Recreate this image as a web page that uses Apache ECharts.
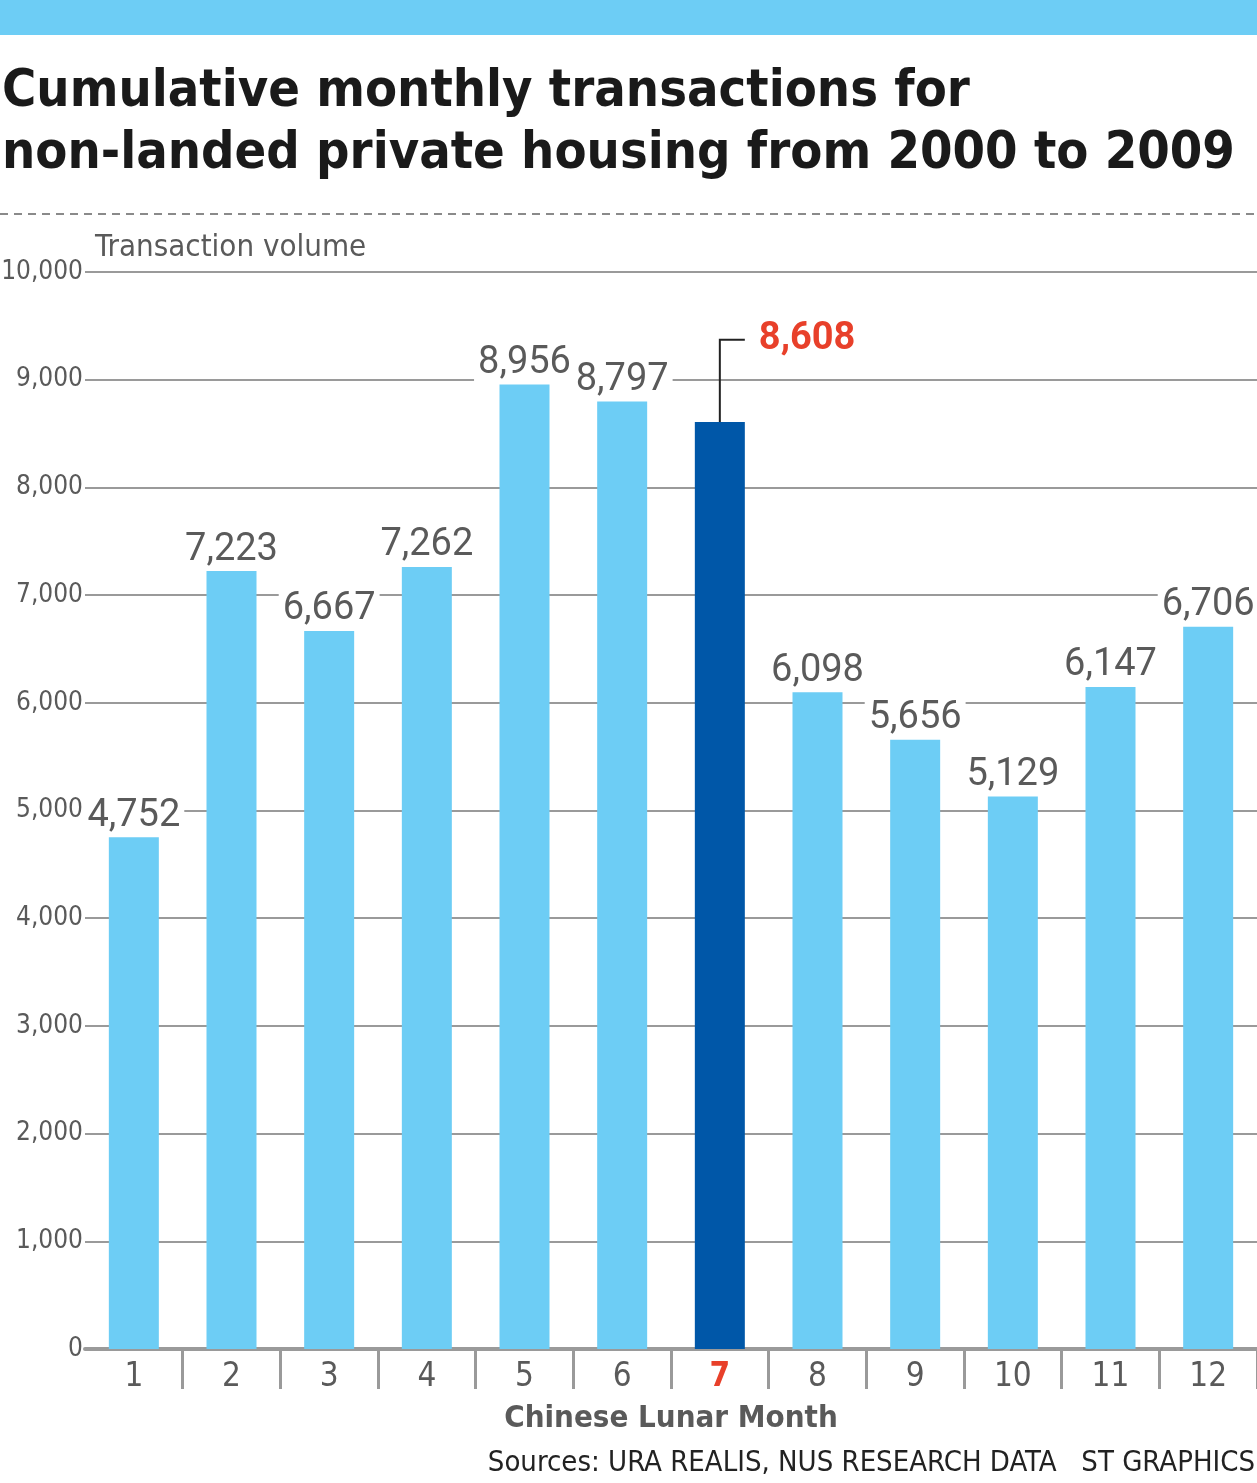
<!DOCTYPE html>
<html>
<head>
<meta charset="utf-8">
<script src="https://cdn.jsdelivr.net/npm/echarts@6/dist/echarts.min.js"></script>
<style>
html,body{margin:0;padding:0;background:#fff;}
#chart{width:1257px;height:1483px;}
</style>
</head>
<body>
<div id="chart"></div>
<script>
const months = ['1','2','3','4','5','6','7','8','9','10','11','12'];
const transactions = [4752, 7223, 6667, 7262, 8956, 8797, 8608, 6098, 5656, 5129, 6147, 6706];
const highlightMonth = '7';
const calloutLevel = 9370;
const yTicks = { min: 0, max: 10000, interval: 1000 };

const LIGHT = '#6dcdf5';
const DARK = '#0057a8';
const RED = '#e8402a';
const GREY = '#5a5a5a';
const NARROW = '"Liberation Sans Narrow", "DejaVu Sans Condensed", sans-serif';

const hiIdx = months.indexOf(highlightMonth);
const barData = transactions.map((v, i) => ({
  value: v,
  itemStyle: { color: i === hiIdx ? DARK : LIGHT },
  label: { show: i !== hiIdx }
}));

const chart = echarts.init(document.getElementById('chart'), null, { renderer: 'canvas' });
chart.setOption({
  animation: false,
  backgroundColor: '#fff',
  grid: { left: 85, right: 0, top: 272, bottom: 134, containLabel: false, outerBoundsMode: 'none' },
  graphic: [
    { type: 'rect', shape: { x: 0, y: 0, width: 1257, height: 35 }, style: { fill: LIGHT } },
    { type: 'text', left: 2, top: 61, style: {
        text: 'Cumulative monthly transactions for\nnon-landed private housing from 2000 to 2009',
        font: 'bold 52px ' + NARROW, fill: '#1a1a1a', lineHeight: 62 } },
    { type: 'line', shape: { x1: 0, y1: 214, x2: 1257, y2: 214 },
      style: { stroke: '#8a8a8a', lineWidth: 2, lineDash: [8, 6] } },
    { type: 'text', left: 95, top: 232, style: {
        text: 'Transaction volume', font: '31px ' + NARROW, fill: GREY } },
    { type: 'text', right: 2, top: 1449, style: {
        text: 'Sources: URA REALIS, NUS RESEARCH DATA   ST GRAPHICS', font: '29px ' + NARROW, fill: '#222' } }
  ],
  xAxis: {
    type: 'category',
    data: months,
    boundaryGap: true,
    axisLine: { lineStyle: { color: '#9a9a9a', width: 4 } },
    axisTick: { show: true, length: 40, interval: (i) => i !== 0, lineStyle: { color: '#9a9a9a', width: 3 } },
    axisLabel: {
      interval: 0,
      margin: 12, fontSize: 33, fontFamily: NARROW, color: GREY,
      formatter: (v) => v === highlightMonth ? '{hi|' + v + '}' : v,
      rich: { hi: { fontSize: 33, fontFamily: NARROW, fontWeight: 'bold', color: RED } }
    },
    name: 'Chinese Lunar Month',
    nameLocation: 'middle',
    nameGap: 54,
    nameTextStyle: { fontSize: 31, fontFamily: NARROW, fontWeight: 'bold', color: GREY }
  },
  yAxis: {
    type: 'value',
    min: yTicks.min, max: yTicks.max, interval: yTicks.interval,
    axisLine: { show: false },
    axisTick: { show: false },
    splitLine: { lineStyle: { color: '#9a9a9a', width: 2 } },
    axisLabel: {
      margin: 2, fontSize: 26, fontFamily: NARROW, color: GREY,
      formatter: (v) => v.toLocaleString('en-US')
    }
  },
  series: [
    {
      type: 'bar',
      data: barData,
      barWidth: 50,
      z: 3,
      label: {
        show: true, position: 'top', distance: 2,
        fontSize: 38, fontFamily: 'Roboto, sans-serif', color: GREY,
        backgroundColor: '#fff', padding: [0, 4, 0, 4],
        formatter: (p) => p.value.toLocaleString('en-US')
      }
    },
    {
      type: 'custom',
      z: 5,
      data: [[hiIdx, transactions[hiIdx]]],
      renderItem: function (params, api) {
        const top = api.coord([api.value(0), api.value(1)]);
        const lvl = api.coord([api.value(0), calloutLevel]);
        return {
          type: 'group',
          children: [
            { type: 'polyline', shape: { points: [[top[0], top[1]], [top[0], lvl[1]], [top[0] + 25, lvl[1]]] },
              style: { stroke: '#222', lineWidth: 2, fill: null } },
            { type: 'text', style: { x: top[0] + 39, y: lvl[1], text: api.value(1).toLocaleString('en-US'),
              font: 'bold 38px Roboto, sans-serif', fill: RED, textAlign: 'left', textVerticalAlign: 'middle' } }
          ]
        };
      }
    }
  ]
});
</script>
</body>
</html>
